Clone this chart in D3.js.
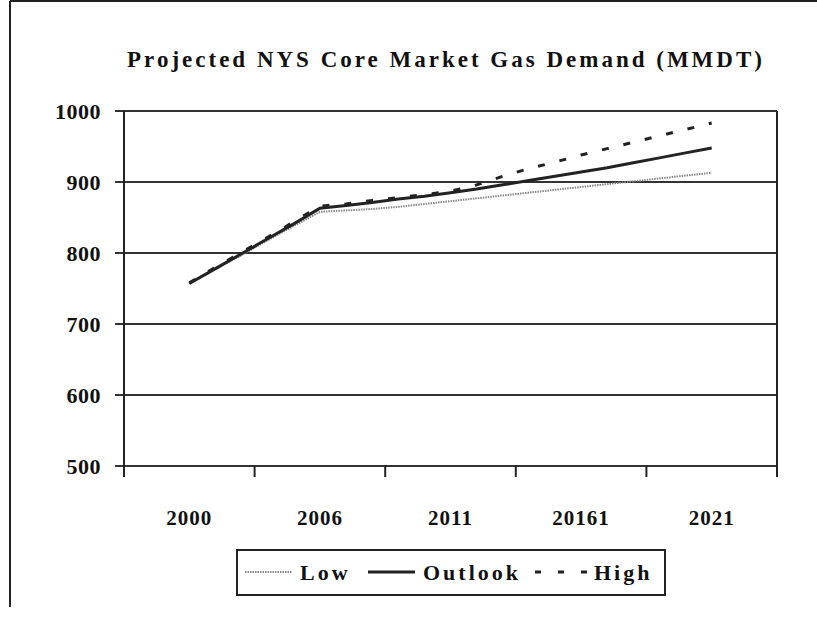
<!DOCTYPE html>
<html>
<head>
<meta charset="utf-8">
<script src="https://cdn.jsdelivr.net/npm/d3@7"></script>
<style>
  body { margin: 0; background: #fff; }
  text { font-family: "Liberation Serif", "Times New Roman", serif; font-weight: bold; fill: #111; }
</style>
</head>
<body>
<div id="chart"></div>
<script>
// category labels on the x axis (each one spans 5 slots)
var xLabels = ['2000', '2006', '2011', '20161', '2021']
var yTicks = [500, 600, 700, 800, 900, 1000]

// 21 yearly points, drawn from slot 2 to slot 22 of 25
var low = [757, 777, 797, 818, 838, 858, 860, 862, 865, 869, 873, 877, 881, 885, 889, 893, 897, 901, 905, 909, 913]
var outlook = [757, 778, 799, 820, 841, 863, 867, 871, 876, 880, 885, 890, 896, 902, 908, 914, 920, 927, 934, 941, 948]
var high = [758, 780, 801, 822, 844, 866, 869, 874, 878, 882, 887, 896, 908, 919, 928, 938, 947, 956, 965, 974, 983]

var W = 817, H = 618
var pLeft = 124, pRight = 777, pTop = 111, pBottom = 466

var svg = d3.select('#chart')
  .append('svg')
  .attr('width', W)
  .attr('height', H)

// outer frame: top and left edge only
svg.append('line').attr('x1', 10).attr('x2', W).attr('y1', 1).attr('y2', 1)
  .attr('stroke', '#222').attr('stroke-width', 2)
svg.append('line').attr('x1', 10).attr('x2', 10).attr('y1', 1).attr('y2', 607)
  .attr('stroke', '#222').attr('stroke-width', 2)

var xSlot = d3.scaleBand().domain(d3.range(25)).range([pLeft, pRight])
var xCat = d3.scaleBand().domain(xLabels).range([pLeft, pRight])
var y = d3.scaleLinear().domain([500, 1000]).range([pBottom, pTop])

/** title */
svg.append('text')
  .attr('x', 446)
  .attr('y', 67)
  .attr('text-anchor', 'middle')
  .style('font-size', '23px')
  .style('letter-spacing', '3px')
  .text('Projected NYS Core Market Gas Demand (MMDT)')

/** gridlines */
svg.append('g').selectAll('line')
  .data(yTicks)
  .enter()
  .append('line')
  .attr('x1', pLeft - 9)
  .attr('x2', pRight)
  .attr('y1', d => y(d))
  .attr('y2', d => y(d))
  .attr('stroke', '#333')
  .attr('stroke-width', 2)

// plot border: left axis and right edge
svg.append('line').attr('x1', pLeft).attr('x2', pLeft).attr('y1', pTop).attr('y2', pBottom + 11)
  .attr('stroke', '#222').attr('stroke-width', 2)
svg.append('line').attr('x1', pRight).attr('x2', pRight).attr('y1', pTop).attr('y2', pBottom + 11)
  .attr('stroke', '#222').attr('stroke-width', 2)

/** y axis labels */
var yAxis = svg.append('g')
  .attr('transform', 'translate(' + pLeft + ',0)')
  .call(d3.axisLeft(y).tickValues(yTicks).tickFormat(d3.format('d')).tickSize(0).tickPadding(23))
yAxis.select('.domain').remove()
yAxis.selectAll('text')
  .style('font-size', '22px')
  .style('letter-spacing', '0.5px')
  .style('font-family', '"Liberation Serif", serif')

/** x axis: ticks at group edges, labels centered */
var edges = xLabels.map(d => xCat(d)).concat([pRight])
svg.append('g').selectAll('line')
  .data(edges)
  .enter()
  .append('line')
  .attr('x1', d => d)
  .attr('x2', d => d)
  .attr('y1', pBottom)
  .attr('y2', pBottom + 11)
  .attr('stroke', '#222')
  .attr('stroke-width', 2)

var xAxis = svg.append('g')
  .attr('transform', 'translate(0,' + pBottom + ')')
  .call(d3.axisBottom(xCat).tickSize(0).tickPadding(44))
xAxis.select('.domain').remove()
xAxis.selectAll('text')
  .style('font-size', '21px')
  .style('letter-spacing', '1px')
  .style('font-family', '"Liberation Serif", serif')

/** lines */
var line = d3.line()
  .x((d, i) => xSlot(i + 2) + xSlot.bandwidth() / 2)
  .y(d => y(d))

svg.append('path')
  .datum(low)
  .attr('d', line)
  .attr('fill', 'none')
  .attr('stroke', '#888')
  .attr('stroke-width', 2)
  .attr('stroke-dasharray', '1.5,1')

svg.append('path')
  .datum(outlook)
  .attr('d', line)
  .attr('fill', 'none')
  .attr('stroke', '#222')
  .attr('stroke-width', 3)

svg.append('path')
  .datum(high)
  .attr('d', line)
  .attr('fill', 'none')
  .attr('stroke', '#222')
  .attr('stroke-width', 3)
  .attr('stroke-dasharray', '7,15')

/** legend */
var legend = svg.append('g')
legend.append('rect')
  .attr('x', 237).attr('y', 550)
  .attr('width', 428).attr('height', 45)
  .attr('fill', '#fff')
  .attr('stroke', '#222')
  .attr('stroke-width', 2)

var legendItems = [
  { name: 'Low', x1: 245, x2: 292, tx: 300, stroke: '#888', w: 2, dash: '1.5,1' },
  { name: 'Outlook', x1: 368, x2: 415, tx: 423, stroke: '#222', w: 3, dash: null },
  { name: 'High', x1: 535, x2: 592, tx: 594, stroke: '#222', w: 3, dash: '6,17' }
]
legendItems.forEach(function(d) {
  legend.append('line')
    .attr('x1', d.x1).attr('x2', d.x2)
    .attr('y1', 572).attr('y2', 572)
    .attr('stroke', d.stroke)
    .attr('stroke-width', d.w)
    .attr('stroke-dasharray', d.dash)
  legend.append('text')
    .attr('x', d.tx)
    .attr('y', 580)
    .style('font-size', '22px')
    .style('letter-spacing', '3px')
    .text(d.name)
})
</script>
</body>
</html>
